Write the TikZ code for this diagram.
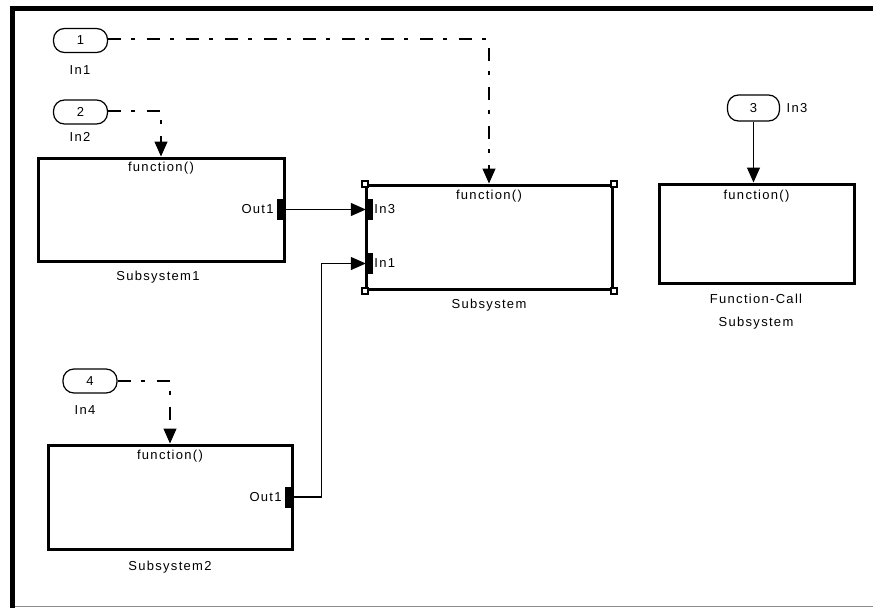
\documentclass[tikz,border=0pt]{standalone}
\usepackage{fontspec}
\setmainfont{Liberation Sans}[LetterSpace=10]
\usepackage{tikz}
\usetikzlibrary{positioning,arrows.meta,calc}

\begin{document}
\begin{tikzpicture}[
  x=1pt, y=-1pt,
  font=\fontsize{13}{15}\selectfont,
  blk/.style={draw, line width=3pt, inner sep=0pt},
  port/.style={draw, line width=1.2pt, rounded corners=11pt, inner sep=0pt,
    minimum width=54pt, minimum height=24pt},
  lbl/.style={inner sep=0pt},
  fn/.style={lbl},
  pmark/.style={fill=black, inner sep=0pt, minimum width=8pt, minimum height=21pt},
  handle/.style={draw, fill=white, line width=2pt, inner sep=0pt, minimum size=6pt},
  ar/.style={-{Triangle[length=15pt,width=13pt]}, line width=1.1pt},
  ctl/.style={ar, dash pattern=on 13pt off 10pt on 4pt off 12pt}
]
  \useasboundingbox (0,0) rectangle (873,608);
  \draw[line width=5pt] (12.5,608) -- (12.5,8.5) -- (873,8.5);
  \draw[line width=1.5pt, black!45] (15,606.5) -- (873,606.5);

  \node[port] (in1) at (80.5,40.5) {1};
  \node[lbl] (in1l) at (80,70) {In1};
  \node[port] (in2) at (80.5,112) {2};
  \node[lbl] (in2l) at (80,137) {In2};
  \node[port, minimum width=52pt, minimum height=26pt] (in3) at (753.5,108) {3};
  \node[lbl] (in3l) at (797,108) {In3};
  \node[port] (in4) at (90,381) {4};
  \node[lbl] (in4l) at (85,410) {In4};

  \node[blk, minimum width=246pt, minimum height=103pt] (s1) at (161,209.5) {};
  \node[fn] (s1f) at ([yshift=-12pt]s1.north) {function()};
  \node[pmark] (s1out) at (281,209.5) {};
  \node[lbl, anchor=east] (s1outl) at ([xshift=-3pt]s1out.west) {Out1};
  \node[lbl] (s1l) at (158,277) {Subsystem1};

  \node[blk, minimum width=246pt, minimum height=104pt] (sub) at (489,237) {};
  \node[fn] (subf) at ([yshift=-13pt]sub.north) {function()};
  \node[pmark, minimum width=7pt] (sin3) at (369.5,209.5) {};
  \node[lbl, anchor=west] (sin3l) at ([xshift=1pt]sin3.east) {In3};
  \node[pmark, minimum width=7pt] (sin1) at (369.5,263.5) {};
  \node[lbl, anchor=west] (sin1l) at ([xshift=1pt]sin1.east) {In1};
  \foreach \c/\n in {north west/a, north east/b, south west/c, south east/d}
    \node[handle] (h\n) at (sub.\c) {};
  \node[lbl] (subl) at (489,305) {Subsystem};

  \node[blk, minimum width=195pt, minimum height=99pt] (fcs) at (756.5,233.5) {};
  \node[fn] (fcsf) at ([yshift=-14pt]fcs.north) {function()};
  \node[lbl, align=center, font=\fontsize{13}{23}\selectfont] (fcsl) at (756,311.5)
    {Function-Call\\Subsystem};

  \node[blk, minimum width=244pt, minimum height=104pt] (s2) at (170,497) {};
  \node[fn] (s2f) at ([yshift=-13pt]s2.north) {function()};
  \node[pmark] (s2out) at (289,497) {};
  \node[lbl, anchor=east] (s2outl) at ([xshift=-3pt]s2out.west) {Out1};
  \node[lbl] (s2l) at (170,567) {Subsystem2};

  \draw[ctl] ([yshift=1.5pt]in1.east) -| (sub.north);
  \draw[ctl] ([yshift=1pt]in2.east) -| (s1.north);
  \draw[ctl] (in4.east) -| (s2.north);
  \draw[ar] (in3.south) -- (in3.south |- fcs.north);
  \draw[ar] (s1out.east) -- (sin3.west);
  \draw[ar] (s2out.east) -- ++(28,0) |- (sin1.west);
\end{tikzpicture}
\end{document}
